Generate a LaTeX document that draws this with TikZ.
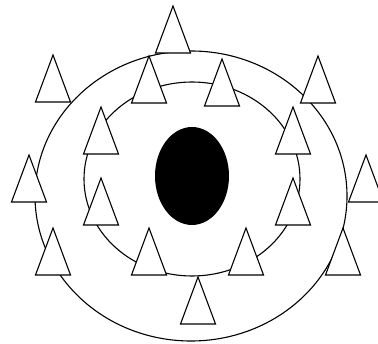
\documentclass[tikz,border=0pt]{standalone}
\begin{document}
\begin{tikzpicture}[x=1pt,y=-1pt,
  ring/.style={draw=black,line width=1.1pt},
  core/.style={fill=black},
  pics/tri/.style={code={\draw[line width=1.1pt,fill=white,line join=miter] (0,0) -- (-17.5,47) -- (17.5,47) -- cycle;}}]
\useasboundingbox (0,0) rectangle (378,344);
\fill[white] (0,0) rectangle (378,344);
% rings
\draw[ring] (191,196) ellipse [x radius=156pt, y radius=145pt];
\draw[ring] (192,179) ellipse [x radius=108pt, y radius=97pt];
% black core
\fill[core] (192,176) ellipse [x radius=37pt, y radius=49pt];
% triangles (apex positions)
\foreach \p in {(173,6),(53,55),(149,56),(222,59),(318,56),
                (101,107),(293,107),(29,155),(366,155),
                (101,178),(293,178),(53,228),(149,228),(246,228),(343,228),
                (198,277)}
  \pic at \p {tri};
\end{tikzpicture}
\end{document}
